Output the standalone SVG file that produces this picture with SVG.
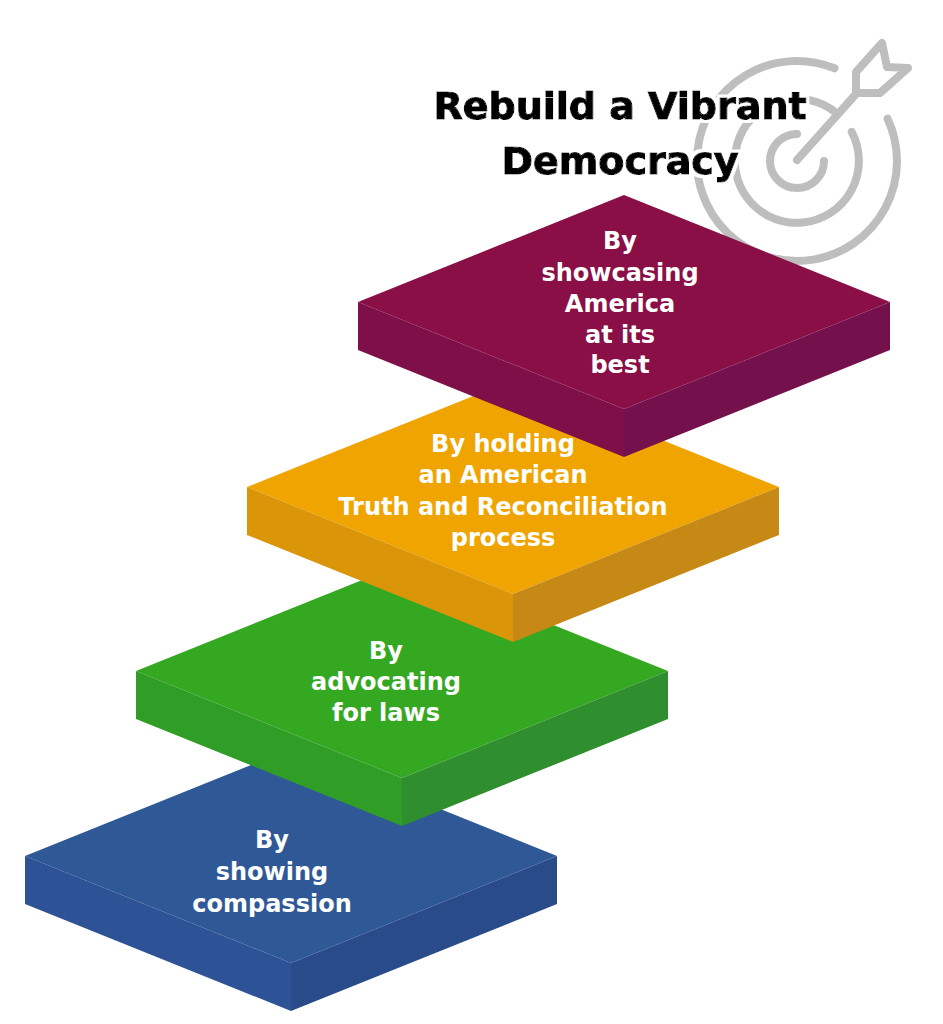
<svg xmlns="http://www.w3.org/2000/svg" width="943" height="1024" viewBox="0 0 943 1024">
<defs>
<filter id="halo" x="-10%" y="-30%" width="120%" height="160%">
<feMorphology in="SourceAlpha" operator="dilate" radius="3" result="d"/>
<feFlood flood-color="#ffffff"/>
<feComposite in2="d" operator="in" result="w"/>
<feMerge><feMergeNode in="w"/><feMergeNode in="SourceGraphic"/></feMerge>
</filter>
</defs>
<style>
.ring{fill:none;stroke:#BEBEBE;stroke-width:8;stroke-linecap:round;stroke-linejoin:round}
.title{font-family:"DejaVu Sans","Liberation Sans",sans-serif;font-weight:bold;font-size:38px;fill:#000;stroke:#000;stroke-width:1.2;text-anchor:middle}
.lbl{font-family:"DejaVu Sans","Liberation Sans",sans-serif;font-weight:bold;font-size:24px;fill:#fff;text-anchor:middle}
</style>
<rect width="943" height="1024" fill="#ffffff"/>
<g id="target-icon">
<path class="ring" d="M887.6,118.7 A100,100 0 1 1 834.5,68.3"/>
<path class="ring" d="M851.7,131.9 A62,62 0 1 1 835.2,112.1"/>
<path class="ring" d="M824,161 A27,27 0 1 1 797,134"/>
<line class="ring" x1="797" y1="160" x2="856" y2="94"/>
<polygon class="ring" points="856,93 856,72 882,43 887,67 908,68 880,93"/>
</g>
<g id="title" filter="url(#halo)">
<text class="title" x="620" y="119">Rebuild a Vibrant</text>
<text class="title" x="620" y="174">Democracy</text>
</g>
<g id="connectors"></g>
<g id="step-1">
<polygon fill="#2F5897" points="291,749 557,856 291,963 25,856"/>
<polygon fill="#2D5296" points="25,856 291,963 291,1011 25,904"/>
<polygon fill="#2A4B8A" points="291,963 557,856 557,904 291,1011"/>
<text class="lbl" x="272" y="848">By</text>
<text class="lbl" x="272" y="880">showing</text>
<text class="lbl" x="272" y="912">compassion</text>
</g>
<g id="step-2">
<polygon fill="#35A822" points="402,564 668,671 402,778 136,671"/>
<polygon fill="#2F9D26" points="136,671 402,778 402,826 136,719"/>
<polygon fill="#2F8F2E" points="402,778 668,671 668,719 402,826"/>
<text class="lbl" x="386" y="659">By</text>
<text class="lbl" x="386" y="690">advocating</text>
<text class="lbl" x="386" y="721">for laws</text>
</g>
<g id="step-3">
<polygon fill="#EFA400" points="513,380 779,487 513,594 247,487"/>
<polygon fill="#DA9508" points="247,487 513,594 513,642 247,535"/>
<polygon fill="#C78915" points="513,594 779,487 779,535 513,642"/>
<text class="lbl" x="503" y="452">By holding</text>
<text class="lbl" x="503" y="483">an American</text>
<text class="lbl" x="503" y="515">Truth and Reconciliation</text>
<text class="lbl" x="503" y="546">process</text>
</g>
<g id="step-4">
<polygon fill="#8A0F47" points="624,195 890,302 624,409 358,302"/>
<polygon fill="#7F0F48" points="358,302 624,409 624,457 358,350"/>
<polygon fill="#74104B" points="624,409 890,302 890,350 624,457"/>
<text class="lbl" x="620" y="249">By</text>
<text class="lbl" x="620" y="281">showcasing</text>
<text class="lbl" x="620" y="312">America</text>
<text class="lbl" x="620" y="343">at its</text>
<text class="lbl" x="620" y="373">best</text>
</g>
</svg>
